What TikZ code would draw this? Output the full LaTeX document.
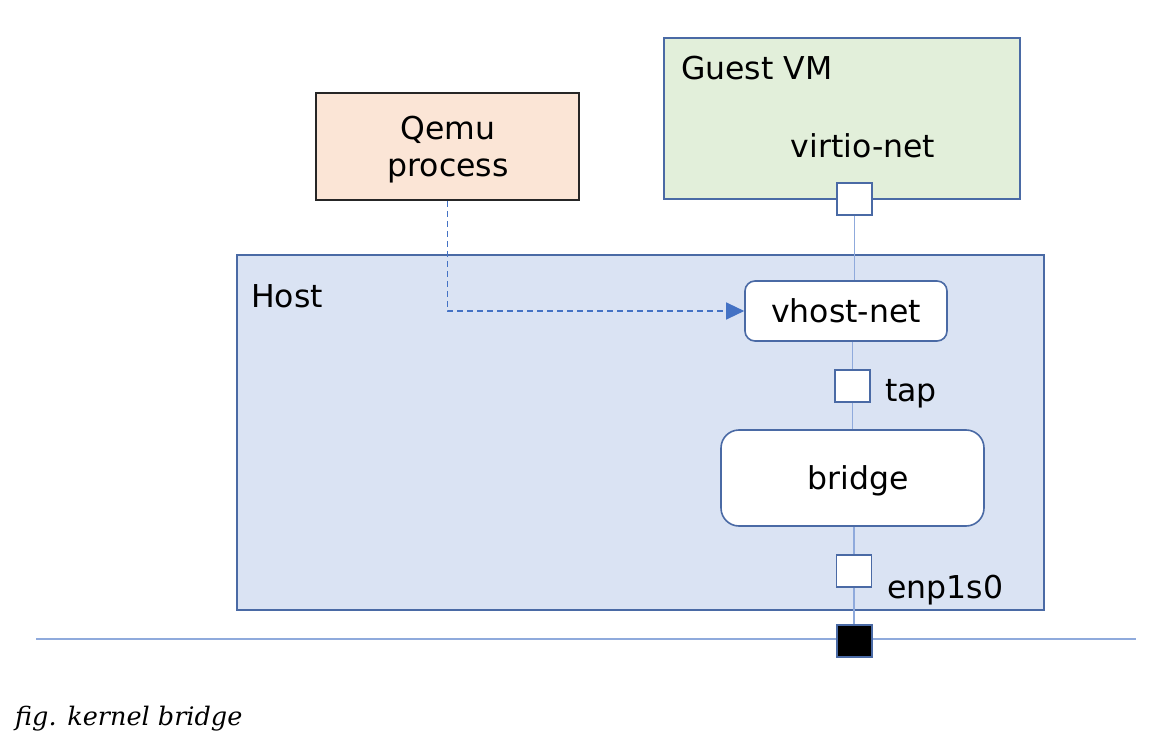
\documentclass[tikz,border=0pt]{standalone}
\usepackage{fontspec}
\setmainfont{DejaVu Sans}
\newfontfamily\capfont{DejaVu Serif}
\usetikzlibrary{arrows.meta}
\definecolor{bord}{HTML}{4A6AA5}
\definecolor{guestfill}{HTML}{E2EFDA}
\definecolor{qemufill}{HTML}{FBE5D6}
\definecolor{hostfill}{HTML}{DAE3F3}
\definecolor{wirecol}{HTML}{8FAADC}
\definecolor{dashcol}{HTML}{4472C4}
\begin{document}
\begin{tikzpicture}[x=1pt,y=-1pt,
  txt/.style={font=\fontsize{31.5}{38}\selectfont, text=black, inner sep=0pt},
  box/.style={draw=bord, line width=1.6pt, inner sep=0pt, anchor=center},
  port/.style={box, fill=white, minimum width=35pt, minimum height=32pt},
  wire/.style={draw=wirecol, line width=1.5pt},
  flow/.style={draw=dashcol, line width=1.2pt, dash pattern=on 6pt off 4pt, -{Triangle[length=18pt,width=17pt]}}
]
\useasboundingbox (0,0) rectangle (1167,751);
\fill[white] (0,0) rectangle (1167,751);

% Guest VM
\node[box, fill=guestfill, minimum width=356pt, minimum height=161pt] (guest) at (842,118.5) {};
\node[txt, anchor=base west] (guestlbl) at (681,80) {Guest VM};
\node[txt, anchor=base] (virtiolbl) at (863,158) {virtio-net};

% Qemu
\node[box, draw=black!85, fill=qemufill, minimum width=263pt, minimum height=107pt] (qemu) at (447.5,146.5) {};
\node[txt, anchor=base] (qemulbl) at (448,140) {Qemu};
\node[txt, anchor=base] (proclbl) at (448,177) {process};

% Host
\node[box, fill=hostfill, minimum width=807pt, minimum height=355pt] (host) at (640.5,432.5) {};
\node[txt, anchor=base west] (hostlbl) at (251,308) {Host};

% inner nodes
\node[box, fill=white, rounded corners=10pt, minimum width=202pt, minimum height=60pt, txt] (vhost) at (846,311) {vhost-net};
\node[box, fill=white, rounded corners=18pt, minimum width=263pt, minimum height=96pt] (bridge) at (852.5,478) {};
\node[txt, anchor=base] (bridgelbl) at (858,489) {bridge};

\node[port] (vport) at (854.5,199) {};
\node[port] (tap) at (852.5,386) {};
\node[txt, anchor=base west] (taplbl) at (885,401) {tap};
\node[port] (enp) at (854,571) {};
\node[txt, anchor=base west] (enplbl) at (887,598) {enp1s0};

% LAN
\coordinate (lanL) at (36,639);
\coordinate (lanR) at (1136,639);
\draw[wire, line width=1.3pt] (lanL) -- (lanR);
\node[port, fill=black] (phys) at (854.5,641) {};

% wires
\draw[wire] (vport.south) -- (vport.south |- vhost.north);
\draw[wire] (tap.north |- vhost.south) -- (tap.north);
\draw[wire] (tap.south) -- (tap.south |- bridge.north);
\draw[wire] (enp.north |- bridge.south) -- (enp.north);
\draw[wire] (enp.south) -- (enp.south |- phys.north);

% control path
\draw[flow] (qemu.south) |- (vhost.west);

% caption
\node[inner sep=0pt, anchor=base west, font=\capfont\itshape\fontsize{25.5}{30}\selectfont] (caption) at (15,725) {fig. kernel bridge};
\end{tikzpicture}
\end{document}
